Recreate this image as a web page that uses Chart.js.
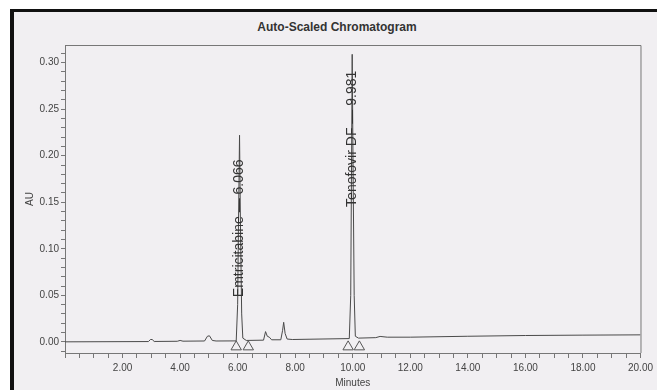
<!DOCTYPE html>
<html>
<head>
  <title>Auto-Scaled Chromatogram</title>
  <script src="https://cdn.jsdelivr.net/npm/chart.js"></script>
  <style>
    body { margin: 0; background: #fff; font-family: Arial, "Liberation Sans", sans-serif; }
    #sheet { position: absolute; left: 10px; top: 9px; width: 643px; height: 381px;
             border-left: 4px solid #111; border-top: 3px solid #111; background: #f1eff2; }
    #title { position: absolute; left: 337px; top: 20px; transform: translateX(-50%);
             font: bold 12px Arial, "Liberation Sans", sans-serif; color: #333; white-space: nowrap; }
    canvas { position: absolute; left: 0; top: 0; }
  </style>
</head>
<body>
  <div id="sheet"></div>
  <div id="title">Auto-Scaled Chromatogram</div>
  <canvas id="chrom" width="657" height="390"></canvas>
  <script>
  // detector trace (minutes, AU)
  const minutes = [0, 2.9, 2.97, 3.03, 3.1, 3.9, 4.0, 4.1, 4.85, 4.95, 5.02, 5.12, 5.25,
    5.95, 6.0, 6.03, 6.066, 6.1, 6.14, 6.18, 6.3, 6.9, 6.97, 7.03, 7.1, 7.18, 7.5, 7.56, 7.6,
    7.65, 7.72, 7.9, 9.88, 9.93, 9.96, 9.981, 10.01, 10.05, 10.09, 10.2, 10.8, 10.95, 11.2,
    12.0, 14.0, 16.0, 18.0, 20.0];
  const au = [0, 0.0003, 0.0025, 0.0025, 0.0004, 0.0006, 0.0015, 0.0007, 0.0009, 0.006, 0.0065, 0.0015, 0.0009,
    0.001, 0.04, 0.13, 0.222, 0.12, 0.03, 0.004, 0.0015, 0.0018, 0.011, 0.006, 0.005, 0.0022, 0.0022, 0.012, 0.021,
    0.009, 0.003, 0.0025, 0.0035, 0.05, 0.2, 0.309, 0.19, 0.05, 0.006, 0.004, 0.0045, 0.0058, 0.005,
    0.005, 0.006, 0.0068, 0.0072, 0.0075];

  // integration start/end markers
  const markerMinutes = [5.95, 6.37, 9.84, 10.23];
  const markerAU = [-0.0054, -0.0054, -0.0054, -0.0054];

  // peak labels
  const peakNames = ['Emtricitabine \u2014 6.066', 'Tenofovir DF \u2014 9.981'];
  const peakTimes = [6.066, 9.981];
  const labelStartAU = [0.048, 0.145];

  const isMult = (v, step) => Math.abs(v / step - Math.round(v / step)) < 1e-6;

  const frame = {
    id: 'frame',
    beforeDatasetsDraw(chart) {
      const { ctx, chartArea: a } = chart;
      ctx.save();
      ctx.strokeStyle = '#777';
      ctx.lineWidth = 1;
      ctx.beginPath();
      ctx.moveTo(a.left, a.top + 0.5);
      ctx.lineTo(a.right + 0.5, a.top + 0.5);
      ctx.lineTo(a.right + 0.5, a.bottom);
      ctx.stroke();
      ctx.restore();
    },
    afterDatasetsDraw(chart) {
      const { ctx, scales: { x, y } } = chart;
      ctx.save();
      ctx.fillStyle = '#333';
      ctx.font = '14px Arial, "Liberation Sans", sans-serif';
      ctx.textAlign = 'left';
      ctx.textBaseline = 'middle';
      peakNames.forEach((name, i) => {
        ctx.save();
        ctx.translate(x.getPixelForValue(peakTimes[i]), y.getPixelForValue(labelStartAU[i]));
        ctx.rotate(-Math.PI / 2);
        ctx.fillText(name, 0, 0);
        ctx.restore();
      });
      ctx.restore();
    }
  };

  new Chart(document.getElementById('chrom'), {
    type: 'scatter',
    data: {
      datasets: [
        {
          data: minutes.map((m, i) => ({ x: m, y: au[i] })),
          showLine: true,
          borderColor: '#4a4a4a',
          borderWidth: 1,
          pointRadius: 0,
          tension: 0
        },
        {
          data: markerMinutes.map((m, i) => ({ x: m, y: markerAU[i] })),
          pointStyle: 'triangle',
          pointRadius: 6,
          backgroundColor: 'rgba(0,0,0,0)',
          borderColor: '#555',
          borderWidth: 1
        }
      ]
    },
    options: {
      responsive: false,
      animation: false,
      layout: { padding: { top: 45, right: 16, bottom: 0, left: 0 } },
      plugins: { legend: { display: false }, tooltip: { enabled: false } },
      scales: {
        x: {
          type: 'linear',
          min: 0,
          max: 20,
          afterFit: s => { s.height = 37; },
          border: { display: true, color: '#777', width: 1 },
          grid: { drawOnChartArea: false, drawTicks: true, tickLength: 5, color: '#777' },
          ticks: {
            stepSize: 0.5,
            autoSkip: false,
            maxRotation: 0,
            padding: 4,
            color: '#444',
            font: { family: 'Arial, "Liberation Sans", sans-serif', size: 10 },
            callback: v => (v > 0 && isMult(v, 2)) ? v.toFixed(2) : ''
          },
          title: {
            display: true,
            text: 'Minutes',
            color: '#444',
            padding: { top: 0, bottom: 1 },
            font: { family: 'Arial, "Liberation Sans", sans-serif', size: 10 }
          }
        },
        y: {
          min: -0.012,
          max: 0.319,
          afterFit: s => { s.width = 65; },
          border: { display: true, color: '#777', width: 1 },
          grid: { drawOnChartArea: false, drawTicks: true, tickLength: 4, color: '#777' },
          ticks: {
            stepSize: 0.01,
            includeBounds: false,
            autoSkip: false,
            padding: 2,
            color: '#444',
            font: { family: 'Arial, "Liberation Sans", sans-serif', size: 10 },
            callback: v => isMult(v, 0.05) ? v.toFixed(2) : ''
          },
          title: {
            display: true,
            text: 'AU',
            color: '#444',
            padding: { top: 24, bottom: 0 },
            font: { family: 'Arial, "Liberation Sans", sans-serif', size: 10 }
          }
        }
      }
    },
    plugins: [frame]
  });
</script>
</body>
</html>
